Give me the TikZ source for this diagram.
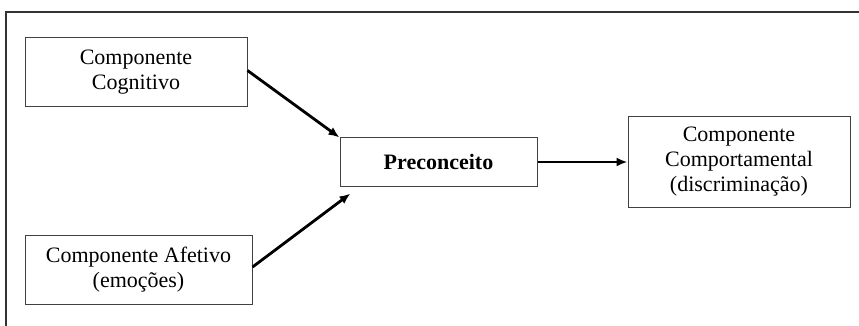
\documentclass[tikz,border=0pt]{standalone}
\usepackage{fontspec}
\setmainfont{Liberation Serif}
\usepackage{tikz}
\usetikzlibrary{arrows.meta,positioning}

\begin{document}
\begin{tikzpicture}[
    auto,
    >={Latex[length=11pt,width=9pt]},
    font=\fontsize{22}{25}\selectfont,
    bloco/.style={
		rectangle,
		draw=black!75,
		line width=1pt,
		text centered,
		align=center,
		inner sep=0pt,
		fill=white
	},
	seta/.style={
		->,
		line width=2.8pt
	}
  ]
  \useasboundingbox (0pt,0pt) rectangle (859pt,-326pt);
  % moldura
  \draw [line width=2.6pt, black!80] (6pt,-330pt) -- (6pt,-12pt) -- (865pt,-12pt);

    % We start by placing the blocks
  \node [bloco, minimum width=197pt, minimum height=48pt] (preconceito) at (438.5pt,-162pt)
 {\textbf{Preconceito}};

  \node [bloco, minimum width=222pt, minimum height=69pt] (cognitivo) at (136pt,-72.5pt)
 {Componente\\Cognitivo};

  \node [bloco, minimum width=227pt, minimum height=69pt] (afetivo) at (138.5pt,-269.5pt)
 {Componente Afetivo\\(emoções)};

  \node [bloco, minimum width=222pt, minimum height=90pt, right=90pt of preconceito] (comportamental)
 {Componente\\Comportamental\\(discriminação)};

  \coordinate (chegada) at ([shift={(11pt,-7pt)}]preconceito.south west);

  \draw [seta] ([yshift=2pt]cognitivo.east) -- (preconceito.north west);
  \draw [seta] ([yshift=2.5pt]afetivo.east) -- (chegada);
  \draw [seta] (preconceito) -- (comportamental);

\end{tikzpicture}
\end{document}
